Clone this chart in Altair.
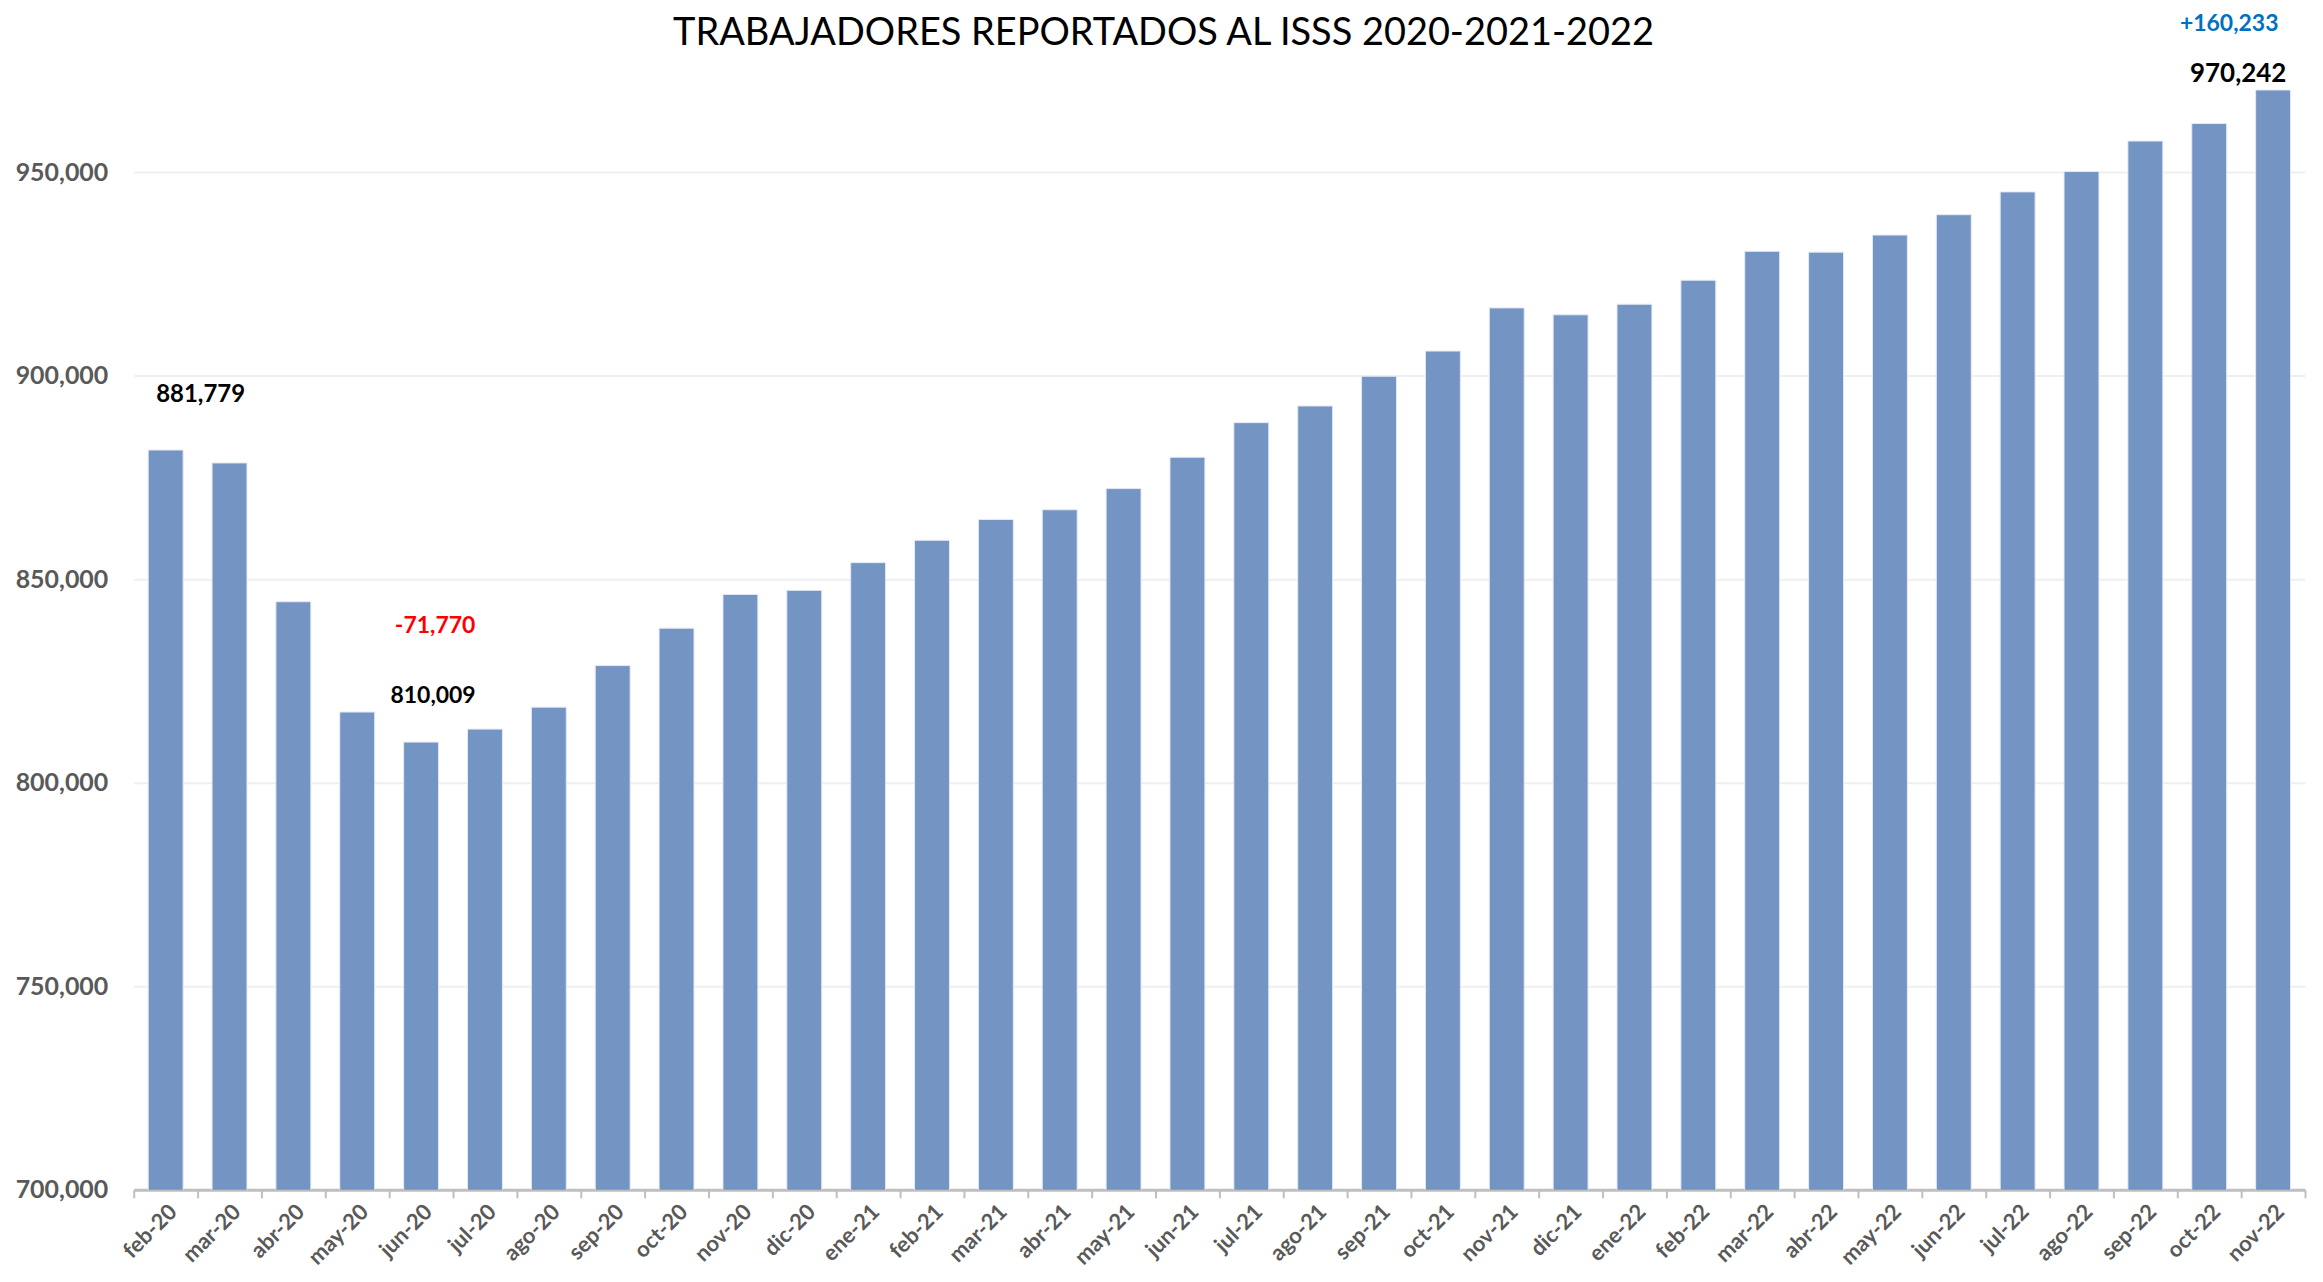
import altair as alt
import pandas as pd

months = ["feb-20", "mar-20", "abr-20", "may-20", "jun-20", "jul-20", "ago-20", "sep-20",
          "oct-20", "nov-20", "dic-20", "ene-21", "feb-21", "mar-21", "abr-21", "may-21",
          "jun-21", "jul-21", "ago-21", "sep-21", "oct-21", "nov-21", "dic-21", "ene-22",
          "feb-22", "mar-22", "abr-22", "may-22", "jun-22", "jul-22", "ago-22", "sep-22",
          "oct-22", "nov-22"]
workers = [881779, 878600, 844500, 817400, 810009, 813200, 818600, 828800,
           838000, 846300, 847300, 854100, 859600, 864700, 867100, 872300,
           880000, 888500, 892600, 899900, 906100, 916700, 915000, 917600,
           923500, 930600, 930400, 934600, 939600, 945200, 950200, 957700,
           962000, 970242]
y_ticks = [700000, 750000, 800000, 850000, 900000, 950000]
title_text = "TRABAJADORES REPORTADOS AL ISSS 2020-2021-2022"

df = pd.DataFrame({"mes": months, "trabajadores": workers})

FONT = "Lato"

x_enc = alt.X("mes:N", sort=months, title=None,
              scale=alt.Scale(paddingInner=0, paddingOuter=0),
              axis=alt.Axis(labelAngle=-45, tickBand="extent", grid=False))
y_enc = alt.Y("trabajadores:Q", title=None,
              scale=alt.Scale(domain=[700000, 980000], nice=False, zero=False),
              axis=alt.Axis(values=y_ticks, labelExpr="format(datum.value, ',.0f')"))

bars = alt.Chart(df).mark_bar(size=35, color="#7494C4", stroke="#E4EAF4",
                              strokeWidth=1, clip=True).encode(x=x_enc, y=y_enc)


def label(mes, value, text, color, dx, dy, size=24):
    d = pd.DataFrame({"mes": [mes], "trabajadores": [value], "t": [text]})
    return alt.Chart(d).mark_text(font=FONT, fontWeight="bold", fontSize=size,
                                  color=color, dx=dx, dy=dy,
                                  baseline="middle", align="center").encode(
        x=x_enc, y=y_enc, text="t:N")


ann_first = label(months[0], workers[0], f"{workers[0]:,}", "black", 35, -55)
ann_min = label(months[4], workers[4], f"{workers[4]:,}", "black", 12, -46, 23)
ann_drop = label(months[4], workers[4], f"{workers[4] - workers[0]:,}", "#FF0000", 14, -116, 23)
ann_last = label(months[-1], workers[-1], f"{workers[-1]:,}", "black", -35, -16, 26)
ann_gain = label(months[-1], workers[-1], f"+{workers[-1] - workers[4]:,}", "#0070C0", -44, -66, 23)

title = alt.Chart(pd.DataFrame({"t": [title_text]})).mark_text(
    font=FONT, fontSize=38, fontWeight="normal", color="black",
    baseline="middle", align="center").encode(
    x=alt.value(1032), y=alt.value(-16), text="t:N")

chart = alt.layer(bars, ann_first, ann_min, ann_drop, ann_last, ann_gain, title).properties(
    width=2176, height=1142,
    background="white",
    autosize=alt.AutoSizeParams(type="none"),
    padding={"left": 126, "top": 41, "right": 10, "bottom": 80},
).configure_view(
    stroke=None
).configure_axisX(
    labelFont=FONT, labelFontSize=22, labelFontWeight="bold", labelColor="#595959",
    domainColor="#BFBFBF", domainWidth=3, tickColor="#BFBFBF", tickWidth=2,
    tickSize=8, labelPadding=3, grid=False
).configure_axisY(
    labelFont=FONT, labelFontSize=25, labelFontWeight="bold", labelColor="#595959",
    domain=False, ticks=False, labelPadding=26, gridColor="#EFEFEF", gridWidth=2
)

chart.save("out.html", embed_options={"renderer": "svg", "actions": False})
